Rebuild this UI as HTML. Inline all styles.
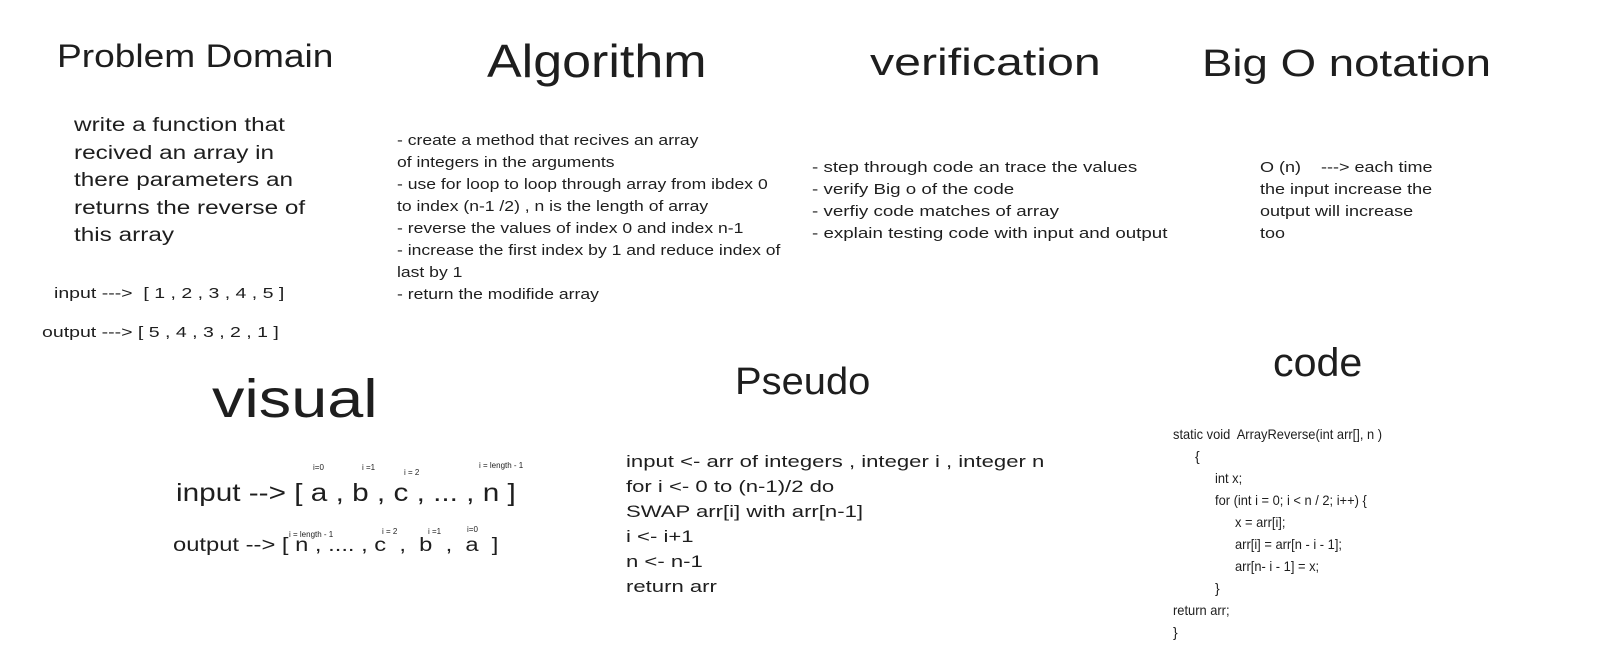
<!DOCTYPE html>
<html><head><meta charset="utf-8"><style>
body{margin:0;width:1604px;height:663px;background:#fff;position:relative;overflow:hidden;font-family:"Liberation Sans",sans-serif;color:#1e1e1e}
.t{position:absolute;white-space:pre;line-height:1;transform-origin:0 0}
.s{position:absolute;font-size:8px;white-space:pre}
</style></head><body>
<div class="t" style="left:57px;top:40px;font-size:32px;transform:scaleX(1.16)">Problem Domain</div>
<div class="t" style="left:487px;top:38px;font-size:46px;transform:scaleX(1.13)">Algorithm</div>
<div class="t" style="left:870px;top:44px;font-size:38px;transform:scaleX(1.27)">verification</div>
<div class="t" style="left:1202px;top:45px;font-size:38px;transform:scaleX(1.2)">Big O notation</div>

<div class="t" style="left:74px;top:112px;font-size:19px;line-height:27.5px;transform:scaleX(1.28)">write a function that
recived an array in
there parameters an
returns the reverse of
this array</div>
<div class="t" style="left:54px;top:286px;font-size:15px;transform:scaleX(1.3)">input ---&gt;  [ 1 , 2 , 3 , 4 , 5 ]</div>
<div class="t" style="left:42px;top:325px;font-size:15px;transform:scaleX(1.3)">output ---&gt; [ 5 , 4 , 3 , 2 , 1 ]</div>

<div class="t" style="left:397px;top:130px;font-size:15px;line-height:22px;transform:scaleX(1.17)">- create a method that recives an array
of integers in the arguments
- use for loop to loop through array from ibdex 0
to index (n-1 /2) , n is the length of array
- reverse the values of index 0 and index n-1
- increase the first index by 1 and reduce index of
last by 1
- return the modifide array</div>

<div class="t" style="left:812px;top:157px;font-size:15px;line-height:22px;transform:scaleX(1.25)">- step through code an trace the values
- verify Big o of the code
- verfiy code matches of array
- explain testing code with input and output</div>

<div class="t" style="left:1260px;top:157px;font-size:15px;line-height:22px;transform:scaleX(1.2)">O (n)    ---&gt; each time
the input increase the
output will increase
too</div>

<div class="t" style="left:212px;top:372px;font-size:54px;transform:scaleX(1.2)">visual</div>
<div class="t" style="left:735px;top:363px;font-size:38px;transform:scaleX(1.05)">Pseudo</div>
<div class="t" style="left:1273px;top:343px;font-size:40px;transform:scaleX(1.03)">code</div>

<div class="t" style="left:176px;top:481px;font-size:25px;transform:scaleX(1.19)">input --&gt; [ a , b , c , ... , n ]</div>
<div class="s" style="left:313px;top:463px">i=0</div>
<div class="s" style="left:362px;top:463px">i =1</div>
<div class="s" style="left:404px;top:468px">i = 2</div>
<div class="s" style="left:479px;top:461px">i = length - 1</div>
<div class="t" style="left:173px;top:536px;font-size:19px;transform:scaleX(1.25)">output --&gt; [ n , .... , c  ,  b  ,  a  ]</div>
<div class="s" style="left:289px;top:530px">i = length - 1</div>
<div class="s" style="left:382px;top:527px">i = 2</div>
<div class="s" style="left:428px;top:527px">i =1</div>
<div class="s" style="left:467px;top:525px">i=0</div>

<div class="t" style="left:626px;top:449px;font-size:17px;line-height:25px;transform:scaleX(1.3)">input &lt;- arr of integers , integer i , integer n
for i &lt;- 0 to (n-1)/2 do
SWAP arr[i] with arr[n-1]
i &lt;- i+1
n &lt;- n-1
return arr</div>

<div class="t" style="left:1173px;top:427px;font-size:14px;transform:scaleX(0.92)">static void  ArrayReverse(int arr[], n )</div>
<div class="t" style="left:1195px;top:449px;font-size:14px">{</div>
<div class="t" style="left:1215px;top:471px;font-size:14px;transform:scaleX(0.92)">int x;</div>
<div class="t" style="left:1215px;top:493px;font-size:14px;transform:scaleX(0.92)">for (int i = 0; i &lt; n / 2; i++) {</div>
<div class="t" style="left:1235px;top:515px;font-size:14px;transform:scaleX(0.92)">x = arr[i];</div>
<div class="t" style="left:1235px;top:537px;font-size:14px;transform:scaleX(0.92)">arr[i] = arr[n - i - 1];</div>
<div class="t" style="left:1235px;top:559px;font-size:14px;transform:scaleX(0.92)">arr[n- i - 1] = x;</div>
<div class="t" style="left:1215px;top:581px;font-size:14px">}</div>
<div class="t" style="left:1173px;top:603px;font-size:14px;transform:scaleX(0.92)">return arr;</div>
<div class="t" style="left:1173px;top:625px;font-size:14px">}</div>
</body></html>
